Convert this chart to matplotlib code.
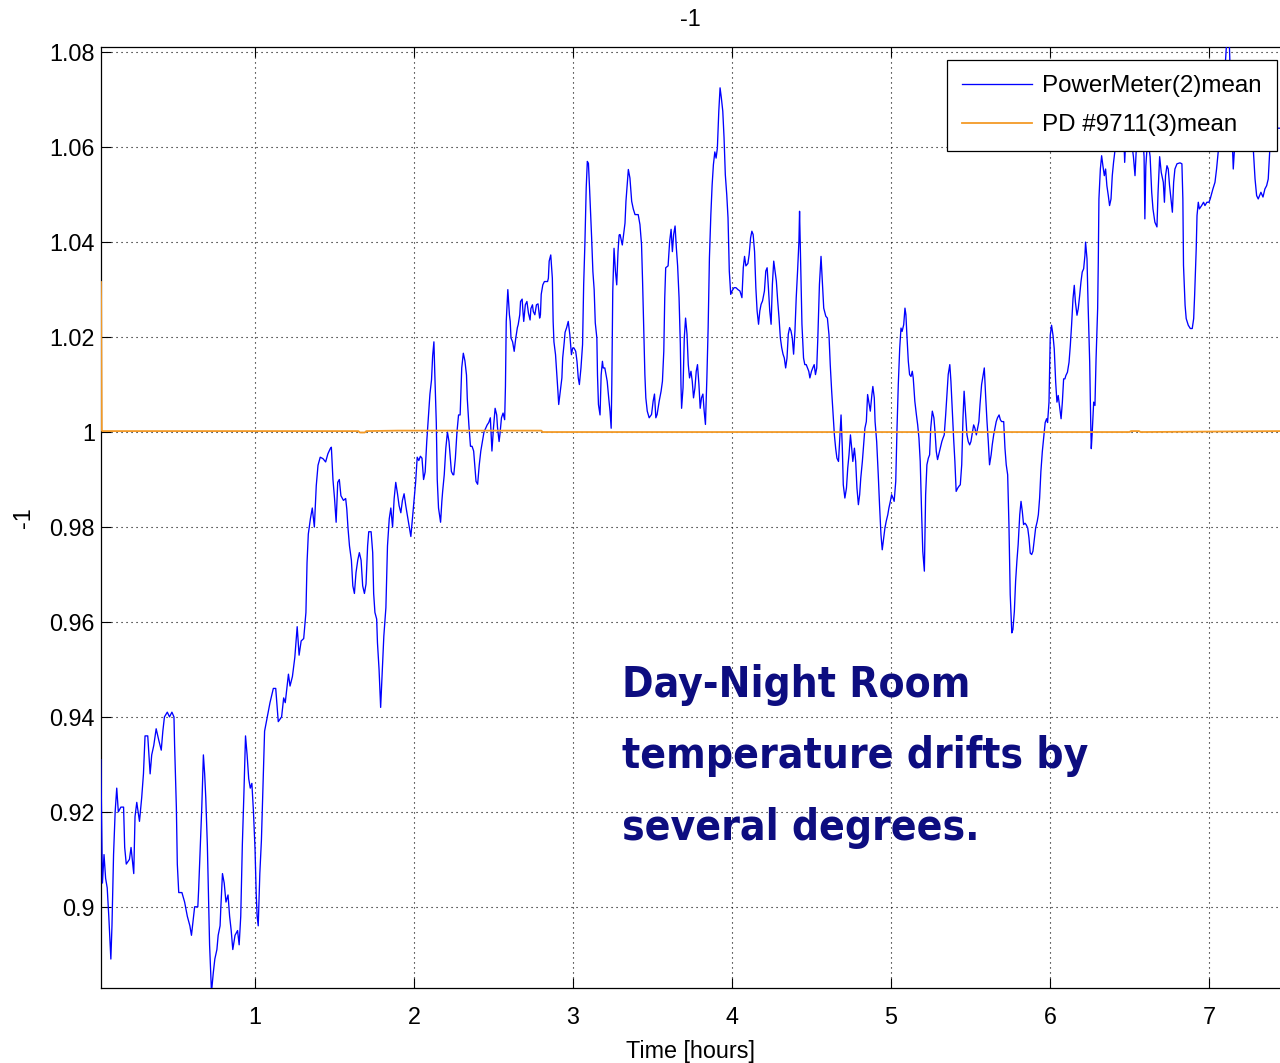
import matplotlib
matplotlib.use("Agg")
import matplotlib.pyplot as plt
import numpy as np

plt.rcParams["font.family"] = ["Liberation Sans", "DejaVu Sans"]
plt.rcParams["axes.unicode_minus"] = False

# PowerMeter(2)mean, read in chunks along the time axis
t_a = [0.030, 0.040, 0.050, 0.060, 0.070, 0.080, 0.093, 0.100, 0.110, 0.120,
       0.130, 0.140, 0.156, 0.173, 0.180, 0.190, 0.210, 0.220, 0.237, 0.245,
       0.256, 0.273, 0.287, 0.298, 0.308, 0.325, 0.340, 0.350, 0.363, 0.378,
       0.395, 0.410, 0.420, 0.430, 0.448, 0.462, 0.477, 0.490, 0.494, 0.505,
       0.511, 0.520, 0.540, 0.557, 0.574, 0.590, 0.600, 0.610, 0.620, 0.640,
       0.645, 0.655, 0.665, 0.675, 0.683, 0.690, 0.700, 0.708, 0.714, 0.726,
       0.737, 0.747, 0.760, 0.768, 0.780, 0.785, 0.795, 0.806, 0.817, 0.830,
       0.840, 0.850, 0.860, 0.874, 0.890, 0.900, 0.910, 0.920, 0.930, 0.940,
       0.950, 0.960, 0.970, 0.980, 0.990, 1.000, 1.007, 1.013, 1.020, 1.030,
       1.040]
v_a = [0.931, 0.905, 0.911, 0.906, 0.904, 0.898, 0.889, 0.896, 0.911, 0.920,
       0.925, 0.920, 0.921, 0.921, 0.9125, 0.909, 0.910, 0.9125, 0.907, 0.919,
       0.922, 0.918, 0.923, 0.928, 0.936, 0.936, 0.928, 0.932, 0.934, 0.9375,
       0.935, 0.933, 0.937, 0.940, 0.941, 0.940, 0.941, 0.940, 0.934, 0.921,
       0.909, 0.903, 0.903, 0.901, 0.898, 0.896, 0.894, 0.897, 0.900, 0.900,
       0.9035, 0.9125, 0.921, 0.932, 0.928, 0.923, 0.913, 0.901, 0.892, 0.882,
       0.886, 0.889, 0.891, 0.894, 0.896, 0.900, 0.907, 0.905, 0.901, 0.9025,
       0.898, 0.895, 0.891, 0.894, 0.895, 0.892, 0.898, 0.913, 0.924, 0.936,
       0.932, 0.927, 0.925, 0.926, 0.920, 0.912, 0.903, 0.898, 0.896, 0.907,
       0.914]

t_b = [1.060, 1.094, 1.115, 1.130, 1.146, 1.167, 1.180, 1.190, 1.210, 1.220,
       1.235, 1.250, 1.265, 1.277, 1.290, 1.306, 1.320, 1.327, 1.335, 1.348,
       1.360, 1.373, 1.385, 1.396, 1.410, 1.427, 1.444, 1.458, 1.473, 1.480,
       1.490, 1.500, 1.510, 1.520, 1.530, 1.540, 1.556, 1.570, 1.577, 1.585,
       1.594, 1.606, 1.615, 1.625, 1.635, 1.646, 1.656, 1.667, 1.677, 1.688,
       1.698, 1.708, 1.715, 1.730, 1.740, 1.746, 1.754, 1.765, 1.770, 1.780,
       1.790, 1.802, 1.810, 1.823, 1.833, 1.844, 1.854, 1.865, 1.875, 1.885,
       1.896, 1.906, 1.917, 1.927, 1.9375, 1.948, 1.958, 1.970, 1.980, 1.990,
       2.000, 2.010, 2.020, 2.030]
v_b = [0.937, 0.943, 0.946, 0.946, 0.939, 0.940, 0.944, 0.943, 0.949, 0.9465,
       0.9485, 0.9525, 0.959, 0.953, 0.956, 0.9565, 0.962, 0.9725, 0.9785, 0.9817,
       0.984, 0.980, 0.9887, 0.993, 0.9947, 0.9944, 0.9937, 0.9954, 0.9965, 0.9968,
       0.990, 0.986, 0.981, 0.9894, 0.990, 0.9866, 0.9856, 0.986, 0.9838, 0.9796,
       0.976, 0.973, 0.9676, 0.966, 0.9704, 0.973, 0.9746, 0.973, 0.9676, 0.966,
       0.968, 0.976, 0.979, 0.979, 0.9746, 0.966, 0.962, 0.9606, 0.9556, 0.950,
       0.942, 0.9507, 0.957, 0.963, 0.976, 0.9817, 0.984, 0.980, 0.986, 0.9894,
       0.987, 0.9845, 0.983, 0.9856, 0.987, 0.9845, 0.9824, 0.980, 0.978, 0.9817,
       0.9856, 0.9894, 0.9947, 0.994]

t_c = [2.040, 2.050, 2.060, 2.070, 2.080, 2.090, 2.100, 2.110, 2.117, 2.125,
       2.130, 2.140, 2.146, 2.154, 2.167, 2.175, 2.180, 2.190, 2.200, 2.210,
       2.220, 2.227, 2.235, 2.245, 2.250, 2.260, 2.270, 2.280, 2.290, 2.295,
       2.300, 2.310, 2.320, 2.330, 2.335, 2.345, 2.355, 2.365, 2.375, 2.385,
       2.390, 2.400, 2.410, 2.420, 2.430, 2.440, 2.460, 2.470, 2.480, 2.485,
       2.490, 2.500, 2.510, 2.520, 2.525, 2.535, 2.540, 2.550, 2.560, 2.570,
       2.575, 2.580, 2.590, 2.600, 2.605, 2.610, 2.620, 2.630, 2.640, 2.650,
       2.655, 2.665, 2.670, 2.680, 2.685, 2.690, 2.700, 2.710, 2.720, 2.730,
       2.735, 2.745, 2.750, 2.760, 2.770, 2.780, 2.790, 2.795, 2.800, 2.810,
       2.820, 2.840, 2.845, 2.850, 2.860, 2.870, 2.875, 2.880, 2.890, 2.897,
       2.905, 2.910, 2.920, 2.930, 2.935, 2.945, 2.950, 2.960, 2.970, 2.980,
       2.990, 2.998, 3.006, 3.017, 3.025, 3.033, 3.040, 3.050, 3.060, 3.067,
       3.075, 3.083, 3.090, 3.097, 3.104, 3.117, 3.125, 3.133, 3.140, 3.150,
       3.154, 3.160, 3.170, 3.177, 3.185, 3.190, 3.200, 3.215, 3.225, 3.233,
       3.240, 3.244, 3.250, 3.258, 3.267, 3.275, 3.283, 3.290]
v_c = [0.9949, 0.9945, 0.990, 0.9916, 0.998, 1.003, 1.008, 1.011, 1.016, 1.019,
       1.013, 1.002, 0.990, 0.984, 0.981, 0.9854, 0.9875, 0.991, 0.9966, 1.000,
       0.998, 0.995, 0.9917, 0.991, 0.991, 0.9945, 1.000, 1.0036, 1.0036, 1.0086,
       1.0135, 1.0166, 1.015, 1.012, 1.007, 1.0015, 0.997, 0.997, 0.996, 0.9917,
       0.9896, 0.989, 0.993, 0.996, 0.998, 1.000, 1.0015, 1.002, 1.003, 0.9994,
       0.996, 1.001, 1.005, 1.0036, 1.001, 0.998, 0.9994, 1.003, 1.004, 1.0026,
       1.0096, 1.0233, 1.030, 1.0247, 1.0233, 1.0198, 1.019, 1.017, 1.0198, 1.022,
       1.0226, 1.0247, 1.0275, 1.028, 1.0254, 1.0233, 1.0268, 1.0275, 1.025, 1.0236,
       1.026, 1.0268, 1.0254, 1.0247, 1.0268, 1.027, 1.024, 1.0247, 1.029, 1.031,
       1.0317, 1.0317, 1.0324, 1.036, 1.0373, 1.0324, 1.0233, 1.019, 1.0163, 1.0128,
       1.0086, 1.0058, 1.0086, 1.0114, 1.0156, 1.019, 1.021, 1.022, 1.0233, 1.0205,
       1.0163, 1.0177, 1.0177, 1.017, 1.0149, 1.0114, 1.010, 1.0135, 1.0184, 1.031,
       1.040, 1.0514, 1.057, 1.0566, 1.0514, 1.041, 1.0338, 1.030, 1.023, 1.0198,
       1.012, 1.0058, 1.0036, 1.012, 1.0149, 1.0135, 1.0135, 1.0107, 1.007, 1.0043,
       1.0008, 1.010, 1.0296, 1.0387, 1.0338, 1.031, 1.038, 1.0415]

t_d = [3.296, 3.310, 3.327, 3.333, 3.348, 3.358, 3.369, 3.379, 3.390, 3.410,
       3.421, 3.431, 3.4375, 3.446, 3.452, 3.458, 3.467, 3.479, 3.494, 3.504,
       3.5125, 3.521, 3.529, 3.542, 3.554, 3.5625, 3.571, 3.577, 3.583, 3.598,
       3.608, 3.617, 3.625, 3.633, 3.642, 3.650, 3.658, 3.667, 3.675, 3.679,
       3.683, 3.692, 3.700, 3.708, 3.717, 3.725, 3.733, 3.742, 3.750, 3.758,
       3.767, 3.775, 3.783, 3.792, 3.800, 3.808, 3.817, 3.825, 3.833, 3.842,
       3.850, 3.858, 3.867, 3.875, 3.883, 3.892, 3.900, 3.908, 3.917, 3.925,
       3.933, 3.942, 3.950, 3.958, 3.967, 3.975, 3.983, 3.992, 4.000, 4.0125,
       4.025, 4.0375, 4.050, 4.0625, 4.071, 4.079, 4.0875, 4.100, 4.108, 4.117,
       4.125, 4.133, 4.142, 4.150, 4.158, 4.167, 4.175, 4.183, 4.192, 4.204,
       4.2125, 4.221, 4.229, 4.2375, 4.246, 4.254, 4.2625, 4.271, 4.279, 4.2875,
       4.296, 4.304, 4.3125, 4.321, 4.329, 4.3375, 4.346, 4.354, 4.3625, 4.371,
       4.379, 4.3875, 4.396, 4.404, 4.4125, 4.421, 4.425, 4.433, 4.440, 4.450,
       4.458, 4.467, 4.475, 4.483, 4.490, 4.500, 4.508, 4.517, 4.525, 4.533,
       4.540, 4.550]
v_d = [1.0416, 1.0394, 1.044, 1.0486, 1.0553, 1.0535, 1.0486, 1.047, 1.0458, 1.0458,
       1.0437, 1.0395, 1.0318, 1.0199, 1.0121, 1.0072, 1.0044, 1.003, 1.0037, 1.0065,
       1.008, 1.003, 1.0037, 1.0065, 1.0086, 1.0107, 1.017, 1.0283, 1.0346, 1.035,
       1.0402, 1.0427, 1.038, 1.0416, 1.0434, 1.0388, 1.035, 1.0283, 1.0185, 1.010,
       1.005, 1.0093, 1.0199, 1.024, 1.0206, 1.0142, 1.0114, 1.0128, 1.0107, 1.0072,
       1.0093, 1.0128, 1.0142, 1.010, 1.005, 1.0072, 1.008, 1.0044, 1.0016, 1.0114,
       1.022, 1.0367, 1.0458, 1.052, 1.0563, 1.059, 1.0577, 1.0598, 1.0676, 1.0725,
       1.0704, 1.0676, 1.062, 1.0542, 1.050, 1.0451, 1.0339, 1.029, 1.0297, 1.0304,
       1.0304, 1.030, 1.0297, 1.0283, 1.0346, 1.037, 1.035, 1.0355, 1.0374, 1.0409,
       1.0423, 1.0416, 1.038, 1.0304, 1.0255, 1.0227, 1.0255, 1.0269, 1.0276, 1.0297,
       1.0339, 1.0346, 1.0304, 1.0255, 1.0227, 1.0311, 1.036, 1.0339, 1.0318, 1.0276,
       1.024, 1.0199, 1.0178, 1.0164, 1.0156, 1.0135, 1.0156, 1.0206, 1.022, 1.0213,
       1.0199, 1.0164, 1.0213, 1.0283, 1.0339, 1.0402, 1.0465, 1.0339, 1.0227, 1.0156,
       1.0142, 1.0142, 1.0135, 1.0128, 1.0114, 1.0128, 1.0135, 1.0142, 1.0121, 1.0135,
       1.0199, 1.0311]

t_e = [4.560, 4.568, 4.577, 4.590, 4.600, 4.610, 4.618, 4.627, 4.635, 4.644,
       4.652, 4.660, 4.670, 4.677, 4.686, 4.694, 4.700, 4.710, 4.720, 4.728,
       4.736, 4.745, 4.753, 4.760, 4.770, 4.778, 4.786, 4.795, 4.803, 4.810,
       4.820, 4.830, 4.836, 4.845, 4.853, 4.860, 4.870, 4.880, 4.886, 4.895,
       4.900, 4.910, 4.920, 4.928, 4.937, 4.945, 4.954, 4.962, 4.970, 4.980,
       4.987, 4.996, 5.004, 5.013, 5.020, 5.030, 5.038, 5.046, 5.055, 5.063,
       5.070, 5.080, 5.088, 5.094, 5.100, 5.109, 5.117, 5.126, 5.134, 5.140,
       5.150, 5.160, 5.168, 5.176, 5.184, 5.193, 5.200, 5.210, 5.218, 5.226,
       5.235, 5.243, 5.250, 5.260, 5.270, 5.277, 5.285, 5.293, 5.300, 5.310,
       5.320, 5.327, 5.335, 5.344, 5.352, 5.360, 5.370, 5.377, 5.386, 5.394,
       5.402, 5.410, 5.420, 5.428, 5.436, 5.445, 5.453, 5.460, 5.470, 5.478,
       5.486, 5.495, 5.503, 5.510, 5.520, 5.528, 5.537, 5.545, 5.553, 5.560,
       5.570, 5.580, 5.587, 5.595, 5.604, 5.612, 5.620, 5.630, 5.637, 5.646,
       5.654, 5.662, 5.670, 5.680, 5.688, 5.696, 5.709, 5.717, 5.725, 5.734,
       5.742, 5.750, 5.760, 5.767, 5.776, 5.784, 5.792, 5.800, 5.810, 5.818,
       5.826, 5.834, 5.843, 5.850, 5.860, 5.868, 5.876, 5.885, 5.893, 5.900,
       5.910, 5.920, 5.927, 5.935, 5.943, 5.952]
v_e = [1.037, 1.0317, 1.0261, 1.0244, 1.024, 1.0205, 1.0142, 1.0086, 1.0044, 0.9994,
       0.9966, 0.9945, 0.9938, 0.998, 1.0036, 0.9966, 0.9889, 0.9861, 0.9882, 0.9924,
       0.9952, 0.9994, 0.9966, 0.9938, 0.9966, 0.9938, 0.9882, 0.9847, 0.9868, 0.9903,
       0.9938, 0.998, 1.0008, 1.0022, 1.0079, 1.0065, 1.0044, 1.0079, 1.0096, 1.0072,
       1.0022, 0.998, 0.991, 0.9847, 0.9784, 0.9752, 0.9777, 0.9798, 0.9812, 0.9826,
       0.984, 0.9854, 0.9868, 0.9861, 0.9854, 0.9896, 1.0008, 1.010, 1.0177, 1.0219,
       1.0212, 1.0226, 1.0261, 1.0247, 1.0205, 1.0149, 1.0121, 1.0117, 1.0128, 1.0114,
       1.0065, 1.0036, 1.0015, 0.9987, 0.9938, 0.9826, 0.9749, 0.9707, 0.9868, 0.9931,
       0.9945, 0.9952, 1.0008, 1.0044, 1.003, 1.0001, 0.9959, 0.9942, 0.9952, 0.9966,
       0.998, 0.9987, 0.9994, 1.0036, 1.0079, 1.0121, 1.0142, 1.0107, 1.0044, 0.9987,
       0.9938, 0.9875, 0.9882, 0.9886, 0.9889, 0.9931, 1.003, 1.0086, 1.0036, 0.9994,
       0.998, 0.9973, 0.998, 0.9994, 1.0015, 1.0008, 0.9994, 1.0008, 1.0022, 1.0058,
       1.010, 1.0121, 1.0135, 1.0079, 1.0022, 0.998, 0.9931, 0.9952, 0.9973, 0.9994,
       1.0008, 1.0022, 1.003, 1.0036, 1.0026, 1.0022, 1.0022, 0.9966, 0.9931, 0.991,
       0.9805, 0.9658, 0.9577, 0.9584, 0.9622, 0.9686, 0.9728, 0.9763, 0.9826, 0.9854,
       0.9833, 0.9805, 0.9808, 0.9805, 0.9798, 0.9777, 0.9745, 0.9742, 0.9749, 0.977,
       0.9798, 0.9812, 0.9826, 0.9861, 0.9917, 0.9959]

t_f = [5.970, 5.979, 5.985, 5.994, 6.002, 6.010, 6.019, 6.027, 6.036, 6.044,
       6.052, 6.060, 6.070, 6.078, 6.086, 6.094, 6.100, 6.110, 6.120, 6.128,
       6.136, 6.145, 6.153, 6.160, 6.170, 6.178, 6.187, 6.195, 6.203, 6.212,
       6.220, 6.224, 6.233, 6.240, 6.250, 6.256, 6.260, 6.266, 6.275, 6.283,
       6.290, 6.300, 6.304, 6.308, 6.317, 6.325, 6.333, 6.342, 6.350, 6.358,
       6.367, 6.375, 6.384, 6.392, 6.400, 6.410, 6.420, 6.445, 6.465, 6.470,
       6.480, 6.495, 6.510, 6.525, 6.535, 6.545, 6.560, 6.580, 6.592, 6.597,
       6.603, 6.615, 6.630, 6.640, 6.648, 6.660, 6.673, 6.680, 6.690, 6.700,
       6.713, 6.720, 6.727, 6.736, 6.744, 6.752, 6.761, 6.770, 6.778, 6.786,
       6.799, 6.818, 6.830, 6.836, 6.840, 6.850, 6.857, 6.870, 6.883, 6.895,
       6.904, 6.910, 6.920, 6.925, 6.933, 6.940, 6.954, 6.966, 6.975, 6.987,
       7.000, 7.008, 7.017, 7.025, 7.038, 7.048, 7.060, 7.080, 7.100, 7.115,
       7.125, 7.135, 7.145, 7.153, 7.165, 7.180, 7.200, 7.230, 7.260, 7.280,
       7.290, 7.300, 7.310, 7.327, 7.340, 7.352, 7.363, 7.373, 7.383, 7.395,
       7.420, 7.445]
v_f = [1.002, 1.0028, 1.002, 1.0063, 1.0204, 1.0225, 1.0204, 1.0175, 1.0105, 1.0063,
       1.0077, 1.0056, 1.0028, 1.0063, 1.0112, 1.0112, 1.0119, 1.0126, 1.0147, 1.0182,
       1.0225, 1.0281, 1.0309, 1.0274, 1.0246, 1.026, 1.0288, 1.0316, 1.0337, 1.0344,
       1.0372, 1.040, 1.0365, 1.0267, 1.0147, 1.0028, 0.9965, 1.0, 1.0063, 1.0056,
       1.0154, 1.026, 1.0358, 1.0491, 1.0554, 1.0582, 1.0561, 1.054, 1.0554, 1.0519,
       1.0498, 1.0477, 1.0491, 1.054, 1.0568, 1.0596, 1.063, 1.066, 1.062, 1.0568,
       1.064, 1.066, 1.062, 1.058, 1.054, 1.061, 1.065, 1.064, 1.058, 1.0449,
       1.056, 1.062, 1.058, 1.0505, 1.047, 1.0442, 1.0432, 1.0505, 1.058, 1.0547,
       1.0526, 1.0484, 1.054, 1.0561, 1.0554, 1.052, 1.0491, 1.0463, 1.0526, 1.0554,
       1.0565, 1.0567, 1.0565, 1.0491, 1.0351, 1.0267, 1.0239, 1.0225, 1.0218, 1.0218,
       1.0239, 1.0288, 1.0386, 1.0456, 1.0484, 1.047, 1.0477, 1.0484, 1.0477, 1.0484,
       1.0484, 1.0491, 1.0502, 1.0512, 1.0526, 1.0554, 1.0596, 1.068, 1.076, 1.084,
       1.086, 1.074, 1.063, 1.0554, 1.062, 1.066, 1.064, 1.065, 1.062, 1.059,
       1.0533, 1.0498, 1.0491, 1.0505, 1.0495, 1.0512, 1.0519, 1.0533, 1.0596, 1.062,
       1.064, 1.064]

# PD #9711(3)mean: start-up spike, then flat at 1
pd_t = [0.031, 0.036, 0.040, 1.650, 1.660, 1.690, 1.700, 1.900, 2.300, 2.800,
        2.810, 6.500, 6.510, 6.560, 6.570, 7.447]
pd_v = [1.0316, 1.0003, 1.0002, 1.0002, 0.9999, 0.9999, 1.0002, 1.0003, 1.0003, 1.0003,
        1.0000, 1.0000, 1.0002, 1.0002, 1.0000, 1.0002]

pm_t = np.concatenate([t_a, t_b, t_c, t_d, t_e, t_f])
pm_v = np.concatenate([v_a, v_b, v_c, v_d, v_e, v_f])

Y_TICKS = [0.90, 0.92, 0.94, 0.96, 0.98, 1.00, 1.02, 1.04, 1.06, 1.08]
Y_LABELS = ["0.9", "0.92", "0.94", "0.96", "0.98", "1", "1.02", "1.04", "1.06", "1.08"]
X_TICKS = [1, 2, 3, 4, 5, 6, 7]

FS = 16.8

fig = plt.figure(figsize=(12.8, 10.63), dpi=100)
ax = fig.add_axes([101 / 1280, 75 / 1063, 1179 / 1280, 941 / 1063])

ax.plot(pm_t, pm_v, color="#0000ff", linewidth=0.95, label="PowerMeter(2)mean", zorder=3)
ax.plot(pd_t, pd_v, color="#f39a26", linewidth=1.3, label="PD #9711(3)mean", zorder=3)

ax.set_xlim(0.031, 7.447)
ax.set_ylim(0.8829, 1.0811)
ax.set_xticks(X_TICKS)
ax.set_yticks(Y_TICKS)
ax.set_yticklabels(Y_LABELS)

ax.grid(True, color="black", linestyle=(0, (1, 3.5)), linewidth=0.8)
ax.tick_params(direction="in", length=7, width=0.8, top=True, right=False,
               labelsize=FS)
ax.tick_params(axis="y", pad=4.5)
ax.tick_params(axis="x", pad=13)
ax.spines["right"].set_visible(False)
for side in ("left", "bottom", "top"):
    ax.spines[side].set_linewidth(0.9)

ax.set_title("-1", fontsize=FS, pad=15)
ax.set_ylabel("-1", fontsize=FS, labelpad=10)
ax.set_xlabel("Time [hours]", fontsize=FS, labelpad=8)

leg = ax.legend(loc="upper right", bbox_to_anchor=(1277 / 1280, 1 - 60 / 1063),
                bbox_transform=fig.transFigure, fontsize=17.4, fancybox=False,
                framealpha=1, edgecolor="black", handlelength=2.9,
                handletextpad=0.42, labelspacing=0.72, borderpad=0.62,
                borderaxespad=0)
leg.get_frame().set_linewidth(0.9)
leg.set_zorder(5)

note_lines = ["Day-Night Room", "temperature drifts by", "several degrees."]
note_base = [697, 768, 840]
for line, y in zip(note_lines, note_base):
    fig.text(622 / 1280, 1 - y / 1063, line, color="#0d0d80", fontsize=30.4,
             family="DejaVu Sans", fontstretch="condensed", fontweight="bold",
             va="baseline", ha="left")

fig.savefig("out.png", dpi=100, facecolor="white")
